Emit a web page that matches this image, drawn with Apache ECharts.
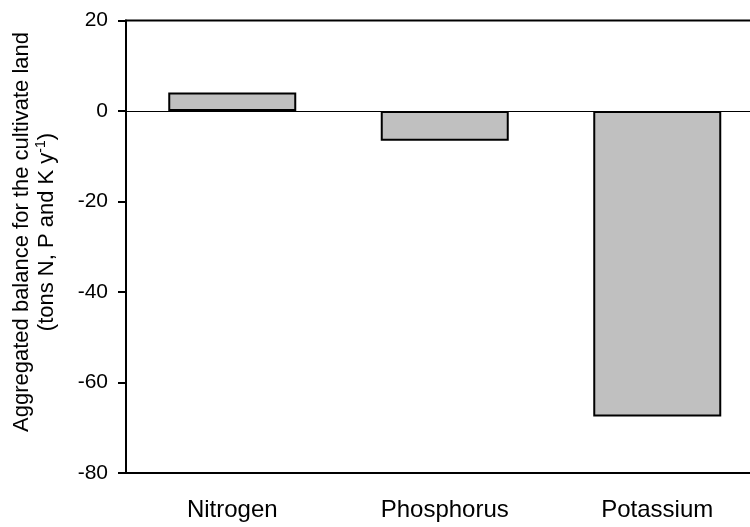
<!DOCTYPE html>
<html>
<head>
<meta charset="utf-8">
<script src="https://cdn.jsdelivr.net/npm/echarts@6/dist/echarts.min.js"></script>
<style>
  html, body { margin: 0; padding: 0; background: #fff; }
  #chart { width: 750px; height: 527px; }
</style>
</head>
<body>
<div id="chart"></div>
<script>
var categories = ['Nitrogen', 'Phosphorus', 'Potassium'];
var balance = [4.1, -6.6, -67.5];
var yTicks = { min: -80, max: 20, step: 20 };

var chart = echarts.init(document.getElementById('chart'));
var font = 'Liberation Sans, Arial, sans-serif';

var option = {
    animation: false,
    grid: {
        left: 126, top: 20.5, width: 637.5, height: 452.5,
        outerBoundsMode: 'none',
        containLabel: false,
        show: true, borderColor: '#000', borderWidth: 2, backgroundColor: 'transparent'
    },
    xAxis: {
        type: 'category',
        data: categories,
        axisLine: { onZero: false, lineStyle: { color: '#000', width: 2 } },
        axisTick: { alignWithLabel: true, length: 8, lineStyle: { color: '#000', width: 2 } },
        axisLabel: { color: '#000', fontFamily: font, fontSize: 24, margin: 25 },
        splitLine: { show: false }
    },
    yAxis: {
        type: 'value',
        min: yTicks.min, max: yTicks.max, interval: yTicks.step,
        axisLine: { show: true, lineStyle: { color: '#000', width: 2 } },
        axisTick: { show: true, length: 8, lineStyle: { color: '#000', width: 2 } },
        axisLabel: { color: '#000', fontFamily: font, fontSize: 21, margin: 18 },
        splitLine: { show: false }
    },
    graphic: [{
        type: 'text',
        x: 34, y: 232,
        rotation: Math.PI / 2,
        style: {
            text: 'Aggregated balance for the cultivate land\n{n|(tons N, P and K y}{s|-1}{n|)}',
            fill: '#000',
            font: '22px ' + font,
            align: 'center',
            verticalAlign: 'middle',
            lineHeight: 25,
            rich: {
                n: { fontSize: 22, fontFamily: font, fill: '#000', lineHeight: 25 },
                s: { fontSize: 14, fontFamily: font, fill: '#000', verticalAlign: 'top', padding: [0, 0, 8, 0] }
            }
        }
    }],
    series: [{
        type: 'bar',
        data: balance,
        barWidth: 128,
        itemStyle: { color: '#c0c0c0', borderColor: '#000', borderWidth: 2 },
        markLine: {
            silent: true,
            symbol: 'none',
            label: { show: false },
            lineStyle: { color: '#000', width: 1, type: 'solid' },
            data: [{ yAxis: 0 }]
        }
    }]
};

chart.setOption(option);
</script>
</body>
</html>
